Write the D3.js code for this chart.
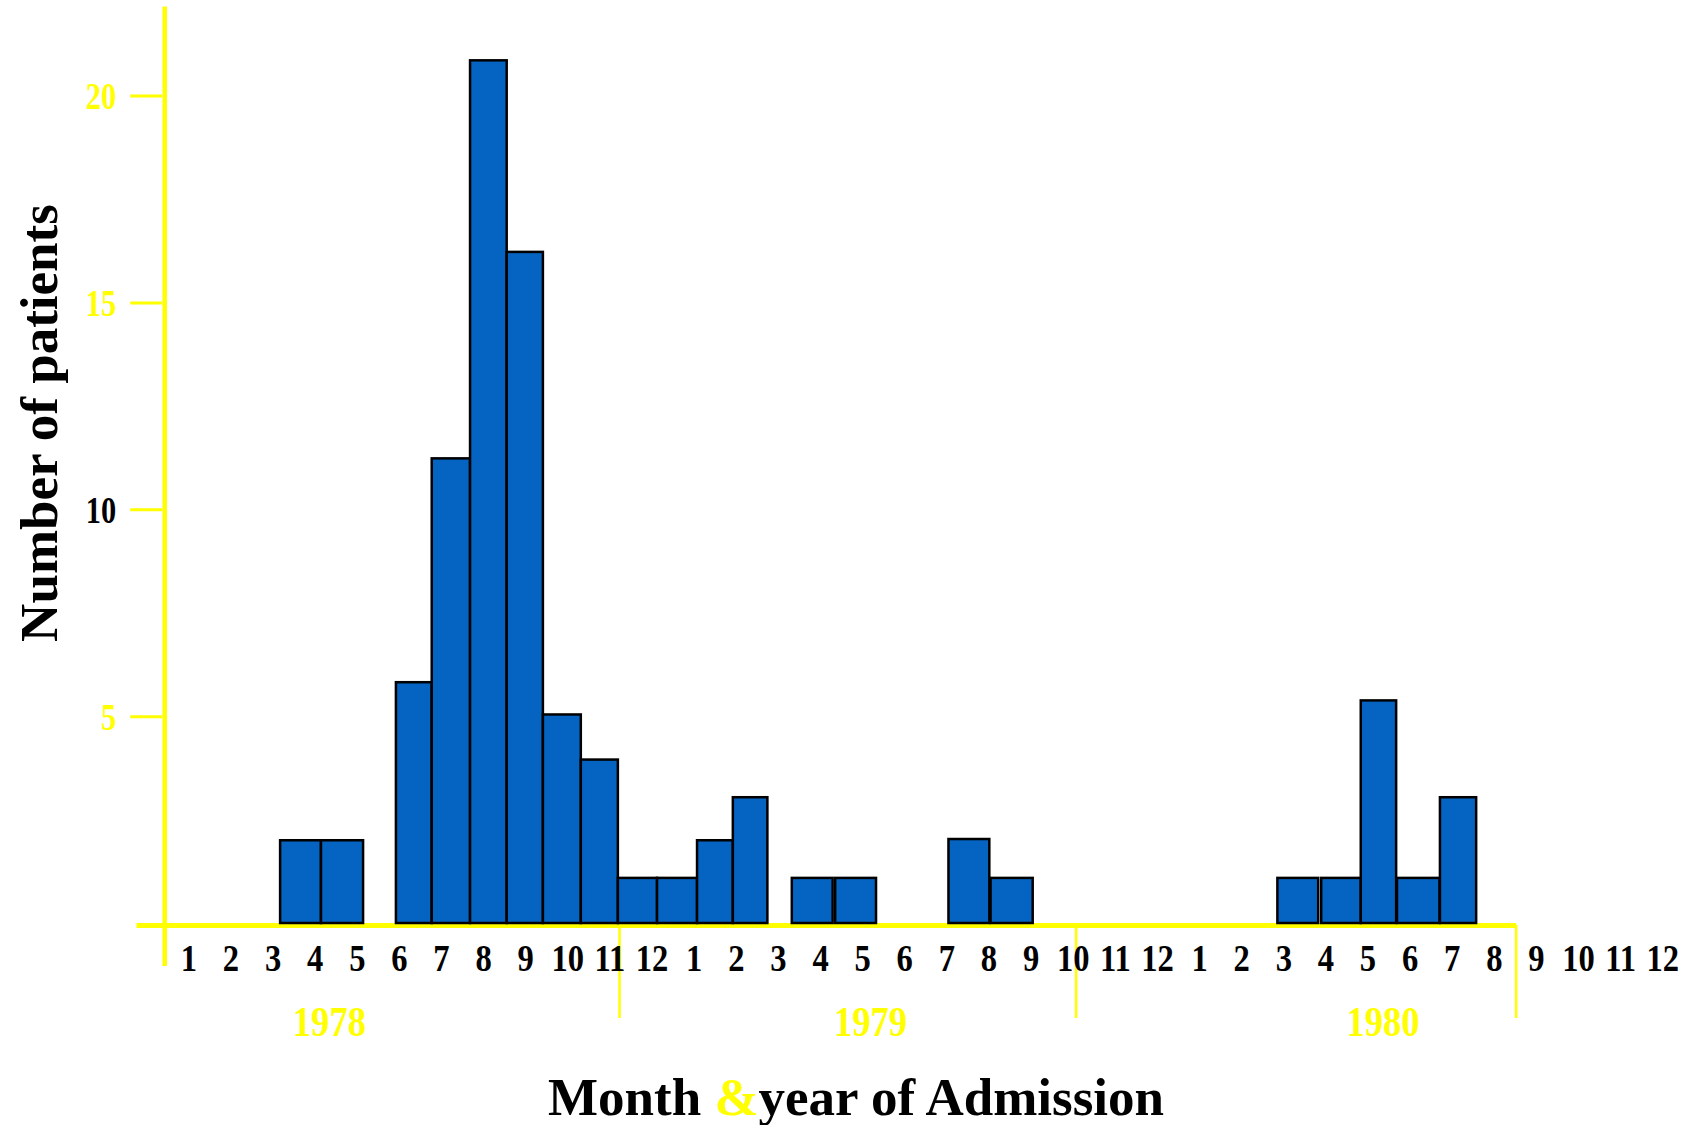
<!DOCTYPE html>
<html>
<head>
<meta charset="utf-8">
<script src="https://cdn.jsdelivr.net/npm/d3@7"></script>
<style>
    body { margin: 0; background: #fff; }
    svg text { font-family: "Liberation Serif", "Times New Roman", serif; font-weight: bold; }
</style>
</head>
<body>
<div id="chart"></div>
<script>
// ===========================
// Admissions histogram
// Patients per month, 1978 - 1980
// ===========================

// month index 0 = Jan 1978 ... 35 = Dec 1980
const monthLabels = [
    '1','2','3','4','5','6','7','8','9','10','11','12',
    '1','2','3','4','5','6','7','8','9','10','11','12',
    '1','2','3','4','5','6','7','8','9','10','11','12'
];
const years = ['1978', '1979', '1980'];
const yearLabelAt = [3.35, 16.2, 28.37];
const yearBreaks = [10.24, 21.08, 31.53];

// bins as drawn (start / end in month units) and their counts
const binStart = [2.18, 3.15, 4.93, 5.78, 6.69, 7.56, 8.42, 9.32, 10.2, 11.13, 12.08, 12.93,
                  14.33, 15.36, 18.05, 19.05, 25.86, 26.9, 27.84, 28.7, 29.72];
const binEnd   = [3.15, 4.15, 5.78, 6.69, 7.56, 8.42, 9.32, 10.2, 11.13, 12.08, 12.93, 13.75,
                  15.3, 16.33, 19.02, 20.05, 26.83, 27.84, 28.68, 29.71, 30.58];
const patients = [2.0, 2.0, 5.82, 11.23, 20.85, 16.22, 5.04, 3.95, 1.09, 1.09, 2.0, 3.04,
                  1.09, 1.09, 2.03, 1.09, 1.09, 1.09, 5.38, 1.09, 3.04];

const yTicks = [5, 10, 15, 20];
const yTickColors = ['#ffff00', '#000000', '#ffff00', '#ffff00'];

const width = 1687, height = 1125;
const YELLOW = '#ffff00';

const x = d3.scaleLinear().domain([0, 35]).range([188.3, 1662.3]);
const y = d3.scaleLinear().domain([0, 20]).range([923, 95.5]);

const svg = d3.select('#chart')
    .append('svg')
    .attr('width', width)
    .attr('height', height);

// --- axis lines ---
svg.append('line')
    .attr('x1', x(-1.23)).attr('x2', x(31.53))
    .attr('y1', y(0) + 2.5).attr('y2', y(0) + 2.5)
    .attr('stroke', YELLOW).attr('stroke-width', 5);

svg.append('line')
    .attr('x1', x(-0.56)).attr('x2', x(-0.56))
    .attr('y1', y(22.15)).attr('y2', y(-1.04))
    .attr('stroke', YELLOW).attr('stroke-width', 4.5);

// year separators
svg.selectAll('.year-break')
    .data(yearBreaks)
    .join('line')
    .attr('class', 'year-break')
    .attr('x1', d => x(d)).attr('x2', d => x(d))
    .attr('y1', y(0) + 2).attr('y2', 1018)
    .attr('stroke', YELLOW).attr('stroke-width', 2.5);

// --- y axis ticks (type in the original is condensed) ---
const ySqueeze = 0.8;
const yAxis = svg.append('g')
    .attr('transform', `translate(${x(-0.56) - 2.5},0)`)
    .call(d3.axisLeft(y).tickValues(yTicks).tickSize(32).tickPadding(14));

yAxis.select('.domain').remove();
yAxis.selectAll('.tick line').attr('stroke', YELLOW).attr('stroke-width', 3);
yAxis.selectAll('.tick text')
    .attr('font-size', '38px')
    .attr('font-family', '"Liberation Serif", serif')
    .attr('font-weight', 'bold')
    .attr('x', -46 / ySqueeze)
    .attr('dy', '0.34em')
    .attr('transform', `scale(${ySqueeze},1)`)
    .attr('fill', (d, i) => yTickColors[i]);

// --- bars ---
const bins = patients.map((v, i) => ({ x0: binStart[i], x1: binEnd[i], value: v }));

svg.selectAll('.bar')
    .data(bins)
    .join('rect')
    .attr('class', 'bar')
    .attr('x', d => x(d.x0))
    .attr('width', d => x(d.x1) - x(d.x0))
    .attr('y', d => y(d.value))
    .attr('height', d => y(0) - y(d.value))
    .attr('fill', '#0563c1')
    .attr('stroke', '#000')
    .attr('stroke-width', 2.5);

// --- month labels ---
const xAxis = svg.append('g')
    .attr('transform', `translate(0,${y(0) + 2.5})`)
    .call(d3.axisBottom(x)
        .tickValues(d3.range(monthLabels.length))
        .tickFormat(i => monthLabels[i])
        .tickSize(0)
        .tickPadding(19));

xAxis.select('.domain').remove();
xAxis.selectAll('.tick text')
    .attr('font-size', '37px')
    .attr('font-family', '"Liberation Serif", serif')
    .attr('font-weight', 'bold')
    .attr('transform', 'scale(0.88,1)')
    .attr('fill', '#000');

// --- year labels ---
svg.selectAll('.year')
    .data(years)
    .join('text')
    .attr('class', 'year')
    .attr('transform', (d, i) => `translate(${x(yearLabelAt[i])},1036) scale(0.87,1)`)
    .attr('text-anchor', 'middle')
    .attr('font-size', '42px')
    .attr('fill', YELLOW)
    .text(d => d);

// --- titles ---
const xTitle = svg.append('text')
    .attr('x', 856)
    .attr('y', 1115)
    .attr('text-anchor', 'middle')
    .attr('font-size', '53px')
    .attr('fill', '#000');
xTitle.append('tspan').text('Month ');
xTitle.append('tspan').attr('fill', YELLOW).text('&');
xTitle.append('tspan').text('year of Admission');

svg.append('text')
    .attr('transform', 'translate(57,423) rotate(-90)')
    .attr('text-anchor', 'middle')
    .attr('font-size', '53px')
    .attr('fill', '#000')
    .text('Number of patients');
</script>
</body>
</html>
